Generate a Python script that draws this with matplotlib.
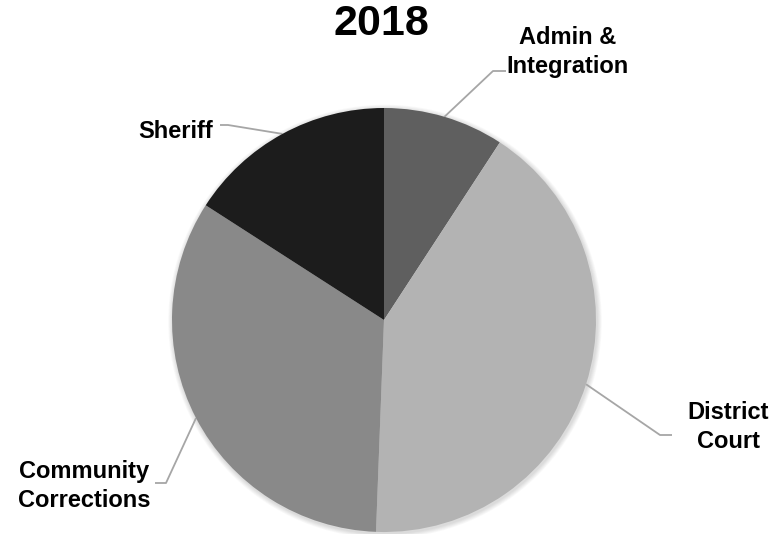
import numpy as np
import matplotlib
matplotlib.use("Agg")
import matplotlib.pyplot as plt
from matplotlib.patches import Circle

# Budget shares for 2018 (percent), clockwise from 12 o'clock
categories = ["Admin &\nIntegration", "District\nCourt", "Community\nCorrections", "Sheriff"]
shares = [9.2, 41.4, 33.5, 15.9]
colors = ["#5f5f5f", "#b3b3b3", "#898989", "#1c1c1c"]
title = "2018"

W, H = 782, 534
fig = plt.figure(figsize=(W / 100, H / 100), dpi=100)
ax = fig.add_axes([0, 0, 1, 1])

def py(y):
    # pixel-from-top to axis y
    return H - y

cx, cy, r = 384, py(320), 212

# soft drop shadow under the pie
for k in range(6, 0, -1):
    ax.add_patch(Circle((cx + 1, cy - 1.5), r + k * 0.8, color="black",
                        alpha=0.025, lw=0, zorder=0))

wedges, _ = ax.pie(shares, colors=colors, startangle=90, counterclock=False,
                   center=(cx, cy), radius=r, frame=True,
                   wedgeprops=dict(linewidth=0, zorder=2))
ax.set_xlim(0, W)
ax.set_ylim(0, H)
ax.set_aspect("equal")
ax.axis("off")

font = dict(family=["Liberation Sans", "DejaVu Sans"], weight="bold")

# label anchor (text centre), elbow point, end of horizontal tick
layout = {
    0: dict(text=(568, 52), elbow=(493, 71), end=(506, 71)),
    1: dict(text=(728, 427), elbow=(660, 435), end=(672, 435)),
    2: dict(text=(84, 486), elbow=(166, 483), end=(155, 483)),
    3: dict(text=(176, 131), elbow=(228, 125), end=(220, 125)),
}

for i, w in enumerate(wedges):
    mid = np.deg2rad((w.theta1 + w.theta2) / 2)
    ex, ey = cx + r * np.cos(mid), cy + r * np.sin(mid)
    L = layout[i]
    xs = [ex, L["elbow"][0], L["end"][0]]
    ys = [ey, py(L["elbow"][1]), py(L["end"][1])]
    ax.plot(xs, ys, color="#a6a6a6", lw=1.3, solid_capstyle="butt", zorder=1)
    ax.text(L["text"][0], py(L["text"][1]), categories[i], ha="center", va="center",
            fontsize=17, linespacing=1.32, color="black", **font)

ax.text(381, py(24), title, ha="center", va="center", fontsize=31, color="black", **font)

fig.savefig("out.png", dpi=100)
